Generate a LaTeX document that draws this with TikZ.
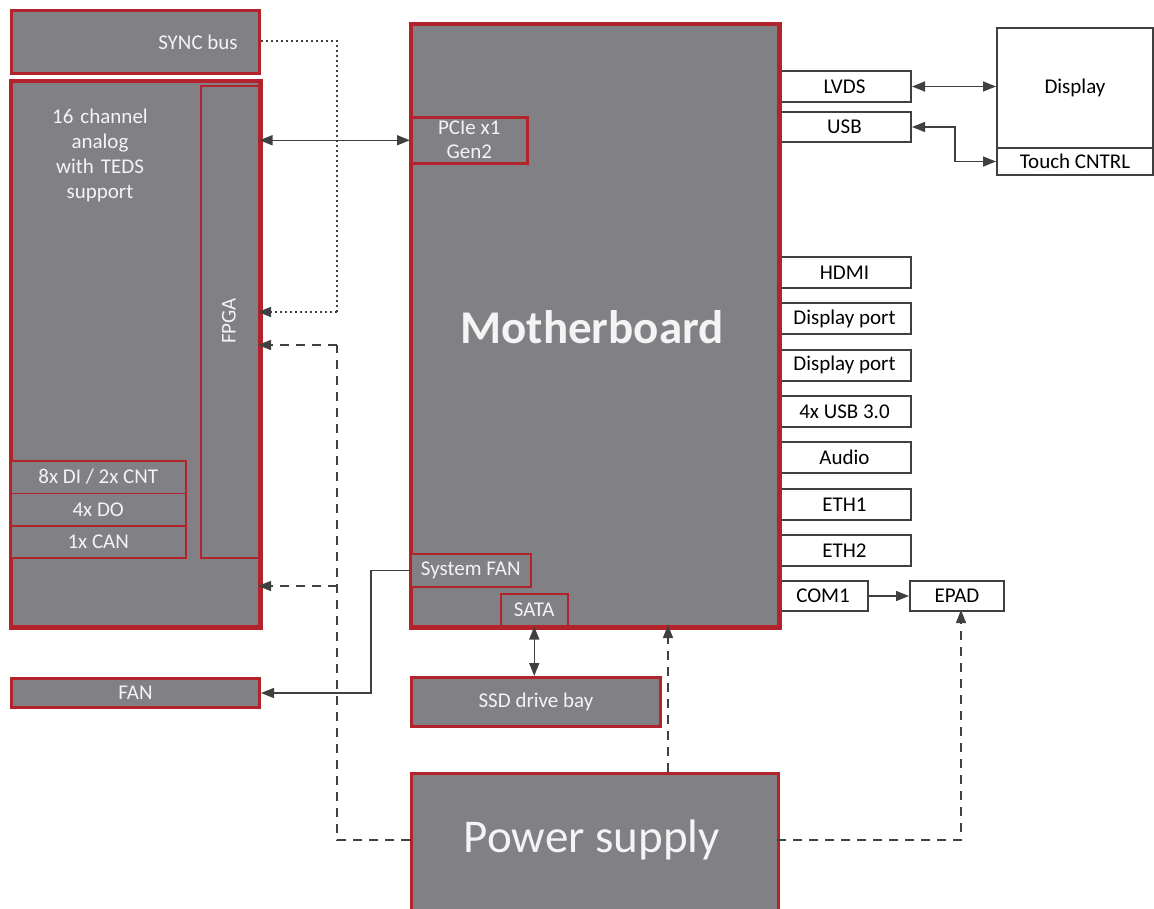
\documentclass[tikz,border=0pt]{standalone}
\usepackage{fontspec}
\setmainfont{Carlito}
\usetikzlibrary{arrows.meta,calc}
\definecolor{gfill}{HTML}{808085}
\definecolor{rline}{HTML}{B3232B}
\definecolor{dline}{HTML}{404040}
\definecolor{wtext}{HTML}{F4F4F4}
\newcommand{\fsmall}{\fontsize{21}{25}\selectfont}
\newcommand{\fbig}{\fontsize{47}{52}\selectfont}
\tikzset{
  gbox/.style={fill=gfill, draw=rline, line width=3pt, inner sep=0pt, anchor=north west, text=wtext, font=\fsmall},
  ibox/.style={gbox, line width=1.5pt},
  pbox/.style={fill=white, draw=dline, line width=2pt, inner sep=0pt, anchor=north west, text=black, font=\fsmall},
  lbl/.style={inner sep=0pt, text=wtext, font=\fsmall},
  conn/.style={draw=dline, line width=1.5pt},
  arr/.style={conn, -{Triangle[length=13pt,width=10pt]}},
  biarr/.style={conn, {Triangle[length=13pt,width=10pt]}-{Triangle[length=13pt,width=10pt]}},
  dashline/.style={conn, dash pattern=on 9pt off 7pt},
  dotline/.style={conn, dash pattern=on 1.6pt off 3.4pt},
}
\begin{document}
\begin{tikzpicture}[x=1pt,y=-1pt]
\useasboundingbox (0,0) rectangle (1154,908);
% left column
\node[gbox, minimum width=248, minimum height=63] (sync) at (10,9) {};
\node[lbl] (synct) at (198,42) {SYNC bus};
\node[gbox, minimum width=248, minimum height=545] (analog) at (10,80) {};
\node[lbl, align=center, text width=150pt] (analogt) at (100,155) {16 channel\\analog\\with TEDS\\support};
\node[ibox, minimum width=58, minimum height=472] (fpga) at (200,85) {};
\node[lbl, rotate=90] (fpgat) at (229,321) {FPGA};
\node[ibox, minimum width=175, minimum height=32.5, anchor=north west] (di) at (10,460) {8x DI / 2x CNT};
\node[ibox, minimum width=175, minimum height=32.5] (do) at (10,492.5) {4x DO};
\node[ibox, minimum width=175, minimum height=32] (can) at (10,525) {1x CAN};
\draw[draw=rline, line width=3pt] (analog.north west) rectangle (analog.south east);
\node[gbox, minimum width=248, minimum height=29] (fan) at (10,677) {FAN};
% right ports
\node[pbox, minimum width=133, minimum height=31] (lvds) at (777,70) {LVDS};
\node[pbox, minimum width=133, minimum height=30] (usb) at (777,111) {USB};
\node[pbox, minimum width=133, minimum height=31] (hdmi) at (777,256) {HDMI};
\node[pbox, minimum width=133, minimum height=31] (dp1) at (777,302) {Display port};
\node[pbox, minimum width=133, minimum height=31] (dp2) at (777,348.5) {Display port};
\node[pbox, minimum width=133, minimum height=31] (usb3) at (777,395) {4x USB 3.0};
\node[pbox, minimum width=133, minimum height=31] (audio) at (777,441) {Audio};
\node[pbox, minimum width=133, minimum height=31] (eth1) at (777,488) {ETH1};
\node[pbox, minimum width=133, minimum height=31] (eth2) at (777,534) {ETH2};
\node[pbox, minimum width=90, minimum height=30] (com1) at (777,580) {COM1};
\node[pbox, minimum width=94, minimum height=30] (epad) at (909,580) {EPAD};
\node[pbox, minimum width=156, minimum height=120] (display) at (996,27) {Display};
\node[pbox, minimum width=156, minimum height=27] (touch) at (996,147) {Touch CNTRL};
% motherboard
\node[gbox, minimum width=367, minimum height=602] (mb) at (410,23) {};
\node[lbl, font=\fbig\bfseries] (mbt) at (592,327) {Motherboard};
\node[gbox, line width=2.5pt, minimum width=116, minimum height=46, align=center, font=\fontsize{21}{24}\selectfont] (pcie) at (410,116) {PCIe x1\\Gen2};
\node[ibox, minimum width=120, minimum height=33] (sysfan) at (410,553) {System FAN};
\node[ibox, minimum width=67, minimum height=32] (sata) at (500,593) {SATA};
\draw[draw=rline, line width=3pt] (mb.north west) rectangle (mb.south east);
% bottom
\node[gbox, minimum width=249, minimum height=49] (ssd) at (410,676) {SSD drive bay};
\node[gbox, minimum width=367, minimum height=145] (psu) at (410,772) {};
\node[lbl, font=\fbig] (psut) at (592,840) {Power supply};
% coordinates
\coordinate (psuL) at (410,840);
\coordinate (psuR) at (777,840);
\coordinate (dashX) at (337,840);
\coordinate (fpgaA) at (258,345);
\coordinate (anaA) at (258,586);
\coordinate (syncX) at (337,41);
\coordinate (fpgaS) at (258,312);
\coordinate (psuT) at (668,772);
\coordinate (mbB) at (668,625);
\coordinate (epadB) at (961,610);
% connectors
\draw[biarr] (pcie.west -| fpga.east) -- (pcie.west);
\draw[dotline] (sync.east |- syncX) -- (syncX) -- (syncX |- fpgaS);
\draw[dotline, -{Triangle[length=13pt,width=10pt]}] (syncX |- fpgaS) -- (fpgaS);
\draw[dashline] (psuL) -- (dashX) -- (dashX |- fpgaA);
\draw[dashline, -{Triangle[length=13pt,width=10pt]}] (dashX |- fpgaA) -- (fpgaA);
\draw[dashline, -{Triangle[length=13pt,width=10pt]}] (dashX |- anaA) -- (anaA);
\draw[arr] (sysfan.west) -- ++(-39,0) |- (fan.east);
\draw[biarr] (sata.south) -- (sata.south |- ssd.north);
\draw[dashline, -{Triangle[length=13pt,width=10pt]}] (psuT) -- (mbB);
\draw[dashline, -{Triangle[length=13pt,width=10pt]}] (psuR) -| (epadB);
\draw[arr] (com1.east) -- (epad.west);
\draw[biarr] (lvds.east) -- (lvds.east -| display.west);
\draw[biarr] (usb.east) -- ++(43,0) |- (touch.west);
\end{tikzpicture}
\end{document}
